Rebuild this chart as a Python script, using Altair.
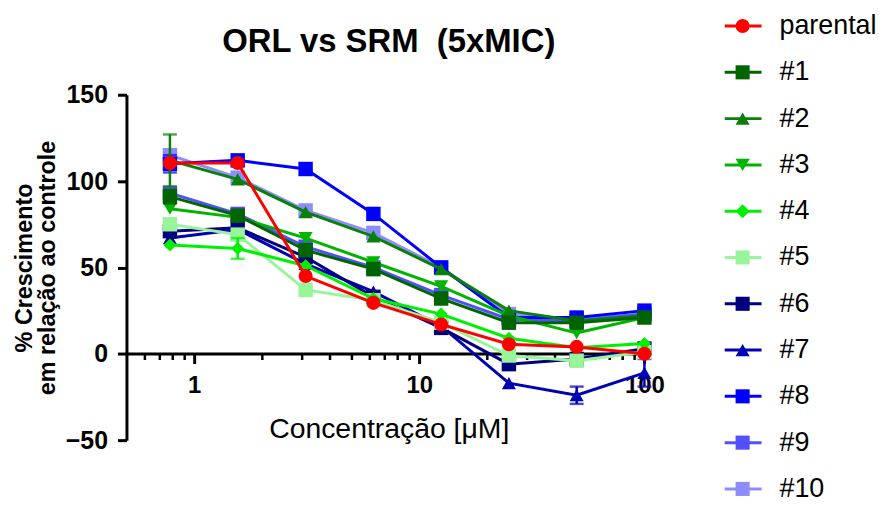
import altair as alt
import pandas as pd

FONT = "Liberation Sans"

conc = [0.78, 1.56, 3.125, 6.25, 12.5, 25, 50, 100]
series = ["parental", "#1", "#2", "#3", "#4", "#5", "#6", "#7", "#8", "#9", "#10"]

parental = [110.5, 110.5, 45, 29.5, 17, 5.5, 4, 0]
s1 = [91, 80, 60, 49, 32, 18, 18, 21]
s2 = [112, 101, 82, 68, 49, 25, 19, 22]
s3 = [84, 79, 67, 53, 39, 22, 12, 21]
s4 = [63, 61, 51, 32, 23, 9, 3.5, 6]
s5 = [75, 69, 37, 31, 18, -1, -4, 1]
s6 = [71, 73, 56, 33, 15, -6, -3, 3]
s7 = [67, 72, 52, 36, 16, -17, -24, -11]
s8 = [110, 112, 107, 81, 50, 21, 21, 25]
s9 = [93, 81, 62, 50, 34, 20, 19, 23]
s10 = [115, 102, 83, 70, 50, 23, 20, 23]
all_values = [parental, s1, s2, s3, s4, s5, s6, s7, s8, s9, s10]

colors = ["#ff0000", "#006400", "#0a800a", "#00b400", "#00f000", "#99f599",
          "#000080", "#0000b4", "#0000ff", "#5050ff", "#8c8cff"]
shapes = ["circle", "square", "triangle-up", "triangle-down", "diamond", "square",
          "square", "triangle-up", "square", "square", "square"]
sizes = [200, 210, 200, 200, 170, 210, 210, 200, 210, 210, 210]

err_series = ["#2", "#4", "#1", "#8", "#6", "#7", "#7"]
err_conc = [0.78, 1.56, 0.78, 0.78, 6.25, 50, 100]
err_sd = [15, 6, 4, 5, 3, 5, 8]

rows = []
for name, vals in zip(series, all_values):
    for c, v in zip(conc, vals):
        rows.append({"series": name, "conc": c, "value": v})
df = pd.DataFrame(rows)

erows = []
for name, c, sd in zip(err_series, err_conc, err_sd):
    v = all_values[series.index(name)][conc.index(c)]
    erows.append({"series": name, "conc": c, "lo": v - sd, "hi": v + sd})
edf = pd.DataFrame(erows)

xscale = alt.Scale(type="log", domain=[0.5, 107], nice=False)
yscale = alt.Scale(domain=[-50, 150], nice=False)

yaxis = alt.Axis(values=[-50, 0, 50, 100, 150], title=["% Crescimento", "em relação ao controle"],
                 titleFont=FONT, titleFontSize=23.5, titleFontWeight="bold", titleColor="black",
                 titleLineHeight=23, titlePadding=6,
                 labelFont=FONT, labelFontSize=25, labelFontWeight="bold", labelColor="black",
                 labelPadding=10, tickSize=9, tickWidth=3, tickColor="black",
                 domainWidth=3, domainColor="black", grid=False)

Y = alt.Y("value:Q", scale=yscale, axis=yaxis)
Xn = alt.X("conc:Q", scale=xscale, axis=None)

major_axis = alt.Axis(orient="bottom", values=[1, 10, 100], format="~g", offset=-87,
                      tickSize=10, tickWidth=3, tickColor="black", domainWidth=3, domainColor="black",
                      labelFont=FONT, labelFontSize=24, labelFontWeight="bold", labelColor="black",
                      labelPadding=10, labelFlush=False, labelOverlap=False, labelBound=False,
                      title="Concentração [μM]", titleFont=FONT, titleFontSize=28.5,
                      titleFontWeight="normal", titleColor="black", titlePadding=17, grid=False)
minor_vals = [0.6, 0.7, 0.8, 0.9, 2, 3, 4, 5, 6, 7, 8, 9, 20, 30, 40, 50, 60, 70, 80, 90]
minor_axis = alt.Axis(orient="bottom", values=minor_vals, offset=-87, labels=False, domain=False,
                      tickSize=6, tickWidth=2.5, tickColor="black", title=None, grid=False)

base = alt.Chart(df)
layers = []
layers.append(base.mark_point(opacity=0).encode(x=alt.X("conc:Q", scale=xscale, axis=major_axis), y=Y))
layers.append(base.mark_point(opacity=0).encode(x=alt.X("conc:Q", scale=xscale, axis=minor_axis), y=Y))

for i in reversed(range(len(series))):
    name = series[i]
    col = colors[i]
    sub = base.transform_filter(alt.datum.series == name)
    if name in err_series:
        esub = alt.Chart(edf).transform_filter(alt.datum.series == name)
        layers.append(esub.mark_rule(color=col, strokeWidth=2.5).encode(
            x=Xn, y=alt.Y("lo:Q", scale=yscale, axis=yaxis), y2="hi:Q"))
        layers.append(esub.mark_tick(color=col, orient="horizontal", size=14, thickness=2.5).encode(
            x=Xn, y=alt.Y("lo:Q", scale=yscale, axis=yaxis)))
        layers.append(esub.mark_tick(color=col, orient="horizontal", size=14, thickness=2.5).encode(
            x=Xn, y=alt.Y("hi:Q", scale=yscale, axis=yaxis)))
    layers.append(sub.mark_line(color=col, strokeWidth=3).encode(x=Xn, y=Y))
    layers.append(sub.mark_point(color=col, filled=True, opacity=1, shape=shapes[i], size=sizes[i]).encode(x=Xn, y=Y))

plot = alt.layer(*layers).resolve_axis(x="independent").properties(
    width=527, height=347,
    title=alt.TitleParams("ORL vs SRM\u00a0 (5xMIC)", font=FONT, fontSize=33, fontWeight="bold",
                          color="black", anchor="middle", offset=24))

leg_df = pd.DataFrame({"series": series, "idx": list(range(len(series)))})
LY = alt.Y("idx:Q", axis=None, scale=alt.Scale(domain=[0, 10], range=[-69, 396], nice=False, zero=False))
LC = alt.Color("series:N", scale=alt.Scale(domain=series, range=colors), legend=None)
LS = alt.Shape("series:N", scale=alt.Scale(domain=series, range=shapes), legend=None)
lbase = alt.Chart(leg_df)
legend = alt.layer(
    lbase.mark_rule(strokeWidth=3).encode(x=alt.value(0), x2=alt.value(37), y=LY, color=LC),
    lbase.mark_point(filled=True, opacity=1, size=200).encode(x=alt.value(18), y=LY, color=LC, shape=LS),
    lbase.mark_text(align="left", baseline="middle", font=FONT, fontSize=27, color="black").encode(
        x=alt.value(55), y=LY, text="series:N"),
).properties(width=30, height=347)

chart = alt.hconcat(plot, legend, spacing=58,
                    padding={"left": 4, "top": 2, "right": 0, "bottom": 0}
                    ).configure_view(stroke="transparent").configure_concat(spacing=58)

chart.save("out.html", embed_options={"renderer": "svg", "actions": False})
